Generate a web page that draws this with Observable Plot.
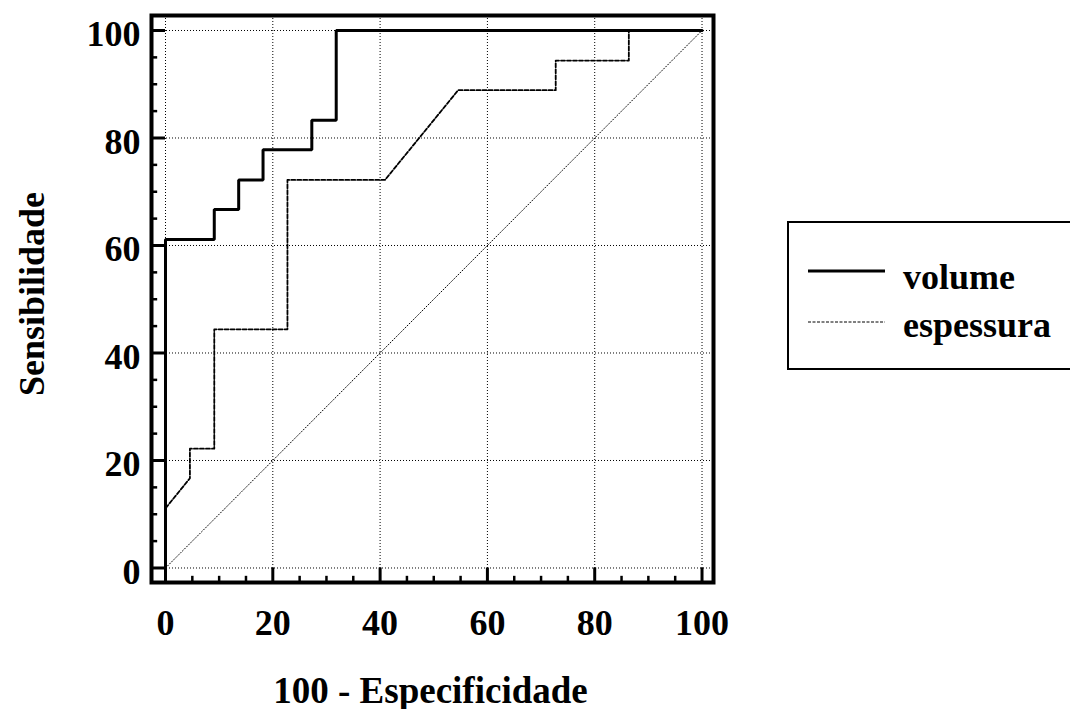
<!DOCTYPE html>
<html><head><meta charset="utf-8">
<script src="https://cdn.jsdelivr.net/npm/d3@7"></script>
<script src="https://cdn.jsdelivr.net/npm/@observablehq/plot@0.6"></script>
<style>
html,body{margin:0;padding:0;background:#fff;overflow:hidden;}
#wrap{position:relative;width:1070px;height:709px;overflow:hidden;}
#legend{position:absolute;left:787px;top:221px;width:320px;height:149px;border:2px solid #000;box-sizing:border-box;background:#fff;}
#legend svg{position:absolute;left:-2px;top:-2px;}
</style></head><body><div id="wrap"></div>
<script>
// ---- data ----
const xTicks = [0, 20, 40, 60, 80, 100];
const yTicks = [0, 20, 40, 60, 80, 100];
const minorTicks = [5, 10, 15, 25, 30, 35, 45, 50, 55, 65, 70, 75, 85, 90, 95];
const volumeX = [0, 0, 9.09, 9.09, 13.64, 13.64, 18.18, 18.18, 27.27, 27.27, 31.82, 31.82, 100];
const volumeY = [0, 61.1, 61.1, 66.7, 66.7, 72.2, 72.2, 77.8, 77.8, 83.3, 83.3, 100, 100];
const espessuraX = [0, 0, 4.55, 4.55, 9.09, 9.09, 22.73, 22.73, 40.91, 54.55, 72.73, 72.73, 86.36, 86.36, 100];
const espessuraY = [0, 11.1, 16.7, 22.2, 22.2, 44.4, 44.4, 72.2, 72.2, 88.9, 88.9, 94.4, 94.4, 100, 100];
const diagX = [0, 100];
const diagY = [0, 100];
const seriesNames = ["volume", "espessura"];
const xTitle = "100 - Especificidade";
const yTitle = "Sensibilidade";

const xDomain = [-2.61, 102.14];
const yDomain = [-2.70, 102.79];
const font = "'Liberation Serif','Times New Roman',serif";

const toPts = (xs, ys) => xs.map((x, i) => ({x, y: ys[i]}));
const volume = toPts(volumeX, volumeY);
const espessura = toPts(espessuraX, espessuraY);
const diag = toPts(diagX, diagY);

const chart = Plot.plot({
  width: 1070, height: 709,
  marginLeft: 151, marginRight: 357, marginTop: 15, marginBottom: 127,
  style: {fontFamily: font, background: "#fff", overflow: "visible"},
  x: {domain: xDomain, axis: null},
  y: {domain: yDomain, axis: null},
  marks: [
    // grid
    Plot.ruleX(xTicks, {x: d => d, stroke: "#000", strokeWidth: 1, strokeDasharray: "1,2"}),
    Plot.ruleY(yTicks, {y: d => d, stroke: "#000", strokeWidth: 1, strokeDasharray: "1,2"}),
    // diagonal
    Plot.line(diag, {x: "x", y: "y", stroke: "#000", strokeWidth: 1, strokeDasharray: "1,2"}),
    // curves
    Plot.line(espessura, {x: "x", y: "y", stroke: "#000", strokeWidth: 1.8, strokeDasharray: "4,2"}),
    Plot.line(volume, {x: "x", y: "y", stroke: "#000", strokeWidth: 3, strokeLinejoin: "miter"}),
    // ticks (inward)
    Plot.ruleY(yTicks, {y: d => d, x1: xDomain[0], x2: 0, stroke: "#000", strokeWidth: 3}),
    Plot.ruleY(minorTicks, {y: d => d, x1: xDomain[0], x2: xDomain[0] + 1.15, stroke: "#000", strokeWidth: 2.5}),
    Plot.ruleX(xTicks, {x: d => d, y1: yDomain[0], y2: 0, stroke: "#000", strokeWidth: 3}),
    Plot.ruleX(minorTicks, {x: d => d, y1: yDomain[0], y2: yDomain[0] + 1.15, stroke: "#000", strokeWidth: 2.5}),
    Plot.frame({stroke: "#000", strokeWidth: 4}),
    // tick labels
    Plot.text(xTicks, {x: d => d, frameAnchor: "bottom", lineAnchor: "top", dy: 27, text: d => String(d),
      fontSize: 36, fontWeight: "bold", fill: "#000"}),
    Plot.text(yTicks, {y: d => d, frameAnchor: "left", textAnchor: "end", lineAnchor: "middle", dx: -11, dy: 4, text: d => String(d),
      fontSize: 36, fontWeight: "bold", fill: "#000"}),
    // titles
    Plot.text([xTitle], {frameAnchor: "bottom", lineAnchor: "bottom", dy: 120, dx: -2, text: d => d,
      fontSize: 37, fontWeight: "bold", fill: "#000"}),
    Plot.text([yTitle], {frameAnchor: "left", textAnchor: "middle", rotate: -90, lineAnchor: "bottom", dx: -108, dy: -5, text: d => d,
      fontSize: 36, fontWeight: "bold", fill: "#000"})
  ]
});

const wrap = document.getElementById("wrap");
wrap.appendChild(chart);

// legend
const legend = document.createElement("div");
legend.id = "legend";
const ns = "http://www.w3.org/2000/svg";
const svg = document.createElementNS(ns, "svg");
svg.setAttribute("width", 320); svg.setAttribute("height", 149);
const styles = [
  {stroke: "#000", width: 3, dash: null},
  {stroke: "#000", width: 1, dash: "3,1.5"}
];
const rowLineY = [50, 101];
const rowTextY = [68, 116];
seriesNames.forEach((name, i) => {
  const ln = document.createElementNS(ns, "line");
  ln.setAttribute("x1", 21); ln.setAttribute("x2", 98);
  ln.setAttribute("y1", rowLineY[i]); ln.setAttribute("y2", rowLineY[i]);
  ln.setAttribute("stroke", styles[i].stroke);
  ln.setAttribute("stroke-width", styles[i].width);
  if (styles[i].dash) ln.setAttribute("stroke-dasharray", styles[i].dash);
  svg.appendChild(ln);
  const tx = document.createElementNS(ns, "text");
  tx.setAttribute("x", 116); tx.setAttribute("y", rowTextY[i]);
  tx.setAttribute("font-family", font);
  tx.setAttribute("font-size", 36);
  tx.setAttribute("font-weight", "bold");
  tx.textContent = name;
  svg.appendChild(tx);
});
legend.appendChild(svg);
wrap.appendChild(legend);
</script>
</body></html>
